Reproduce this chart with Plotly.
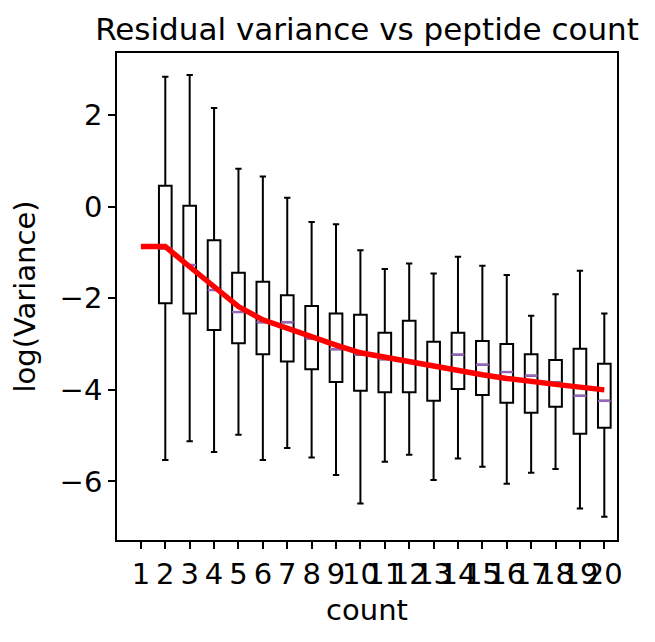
import plotly.graph_objects as go

# ---- data ----
box_counts = list(range(2, 21))
upper_whisker = [2.84, 2.88, 2.16, 0.83, 0.66, 0.20, -0.33, -0.38, -0.95, -1.36,
                 -1.24, -1.46, -1.09, -1.29, -1.49, -2.38, -1.91, -1.40, -2.33]
q3_values = [0.46, 0.02, -0.73, -1.44, -1.64, -1.93, -2.17, -2.33, -2.36, -2.75,
             -2.49, -2.95, -2.75, -2.93, -3.00, -3.22, -3.35, -3.10, -3.43]
median_values = [-0.91, -1.27, -1.82, -2.30, -2.52, -2.52, -2.88, -3.11, -3.23, -3.33,
                 -3.39, -3.49, -3.23, -3.45, -3.61, -3.69, -3.84, -4.13, -4.24]
q1_values = [-2.11, -2.33, -2.69, -2.98, -3.22, -3.38, -3.55, -3.83, -4.02, -4.05,
             -4.05, -4.24, -3.98, -4.11, -4.28, -4.50, -4.37, -4.96, -4.83]
lower_whisker = [-5.53, -5.12, -5.36, -4.98, -5.53, -5.27, -5.48, -5.86, -6.48, -5.57,
                 -5.42, -5.97, -5.50, -5.68, -6.05, -5.81, -5.73, -6.59, -6.77]

trend_counts = list(range(1, 21))
trend_values = [-0.87, -0.87, -1.31, -1.75, -2.18, -2.47, -2.66, -2.85, -3.02, -3.19,
                -3.29, -3.39, -3.49, -3.59, -3.67, -3.75, -3.83, -3.88, -3.94, -4.00]

tick_values = list(range(1, 21))
tick_labels = [str(v) for v in tick_values]

# ---- style ----
BOX_W = 0.52
FONT = "DejaVu Sans"
FIG_W, FIG_H = 647, 634   # page has an 8px body margin

fig = go.Figure()

fig.add_trace(go.Box(
    x=box_counts,
    q1=q1_values, median=median_values, q3=q3_values,
    lowerfence=lower_whisker, upperfence=upper_whisker,
    width=BOX_W, whiskerwidth=0.5,
    line=dict(color="black", width=2),
    fillcolor="rgba(255,255,255,0)",
    boxpoints=False, hoverinfo="skip", showlegend=False,
))

# medians in purple over the boxes
mx, my = [], []
for c, m in zip(box_counts, median_values):
    mx += [c - BOX_W / 2, c + BOX_W / 2, None]
    my += [m, m, None]
fig.add_trace(go.Scatter(
    x=mx, y=my, mode="lines",
    line=dict(color="#9467bd", width=2.4),
    hoverinfo="skip", showlegend=False,
))

fig.add_trace(go.Scatter(
    x=trend_counts, y=trend_values, mode="lines",
    line=dict(color="red", width=5.5),
    hoverinfo="skip", showlegend=False,
))

axis_common = dict(
    showgrid=False, zeroline=False,
    showline=True, linecolor="black", linewidth=1.7, mirror=True,
    ticks="outside", ticklen=7, tickwidth=1.7, tickcolor="black",
    tickfont=dict(family=FONT, size=29, color="black"),
)

fig.update_layout(
    width=FIG_W, height=FIG_H,
    margin=dict(l=109, r=38, t=45, b=102),
    paper_bgcolor="white", plot_bgcolor="white",
    font=dict(family=FONT, color="black"),
    title=dict(
        text="Residual variance vs peptide count",
        font=dict(family=FONT, size=31, color="black"),
        x=0.5, xref="paper", xanchor="center",
        y=1 - 21 / FIG_H, yref="container", yanchor="middle",
    ),
    xaxis=dict(
        **axis_common,
        range=[0.02, 20.52],
        tickmode="array", tickvals=tick_values, ticktext=tick_labels,
        tickangle=0,
        title=dict(text="count", font=dict(family=FONT, size=29, color="black"), standoff=10),
    ),
    yaxis=dict(
        **axis_common,
        range=[-7.28, 3.36],
        tickmode="array", tickvals=[-6, -4, -2, 0, 2],
        ticktext=["\u22126", "\u22124", "\u22122", "0", "2"],
        title=dict(text="log(Variance)", font=dict(family=FONT, size=29, color="black"), standoff=16),
    ),
)

fig.write_html("out.html")
